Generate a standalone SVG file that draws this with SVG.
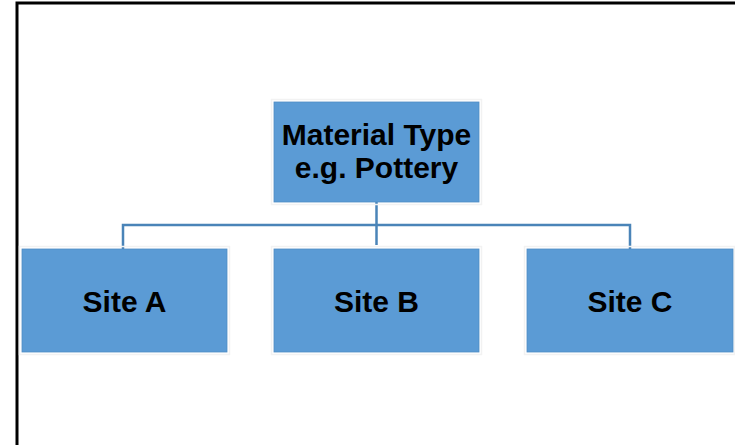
<svg xmlns="http://www.w3.org/2000/svg" width="735" height="445" viewBox="0 0 735 445">
<style>
.box{fill:#5b9bd5;stroke:#4f8cc4;stroke-width:0.8}
.halo{fill:none;stroke:#f2f2f2;stroke-width:1.5}
.lbl{font-family:"Liberation Sans",Arial,sans-serif;font-weight:bold;font-size:30px;fill:#000;text-anchor:middle}
.conn{fill:none;stroke:#4a84b8;stroke-width:2.5}
</style>
<rect width="735" height="445" fill="#fff"/>
<path d="M17,445 V3 H735" fill="none" stroke="#000" stroke-width="3"/>
<g id="connectors">
<path class="conn" d="M376.5,202 V245"/>
<path class="conn" d="M123,249 V225 H630 V249"/>
</g>
<g id="material">
<rect class="halo" x="271.5" y="99.5" width="210" height="105"/>
<rect class="box" x="274" y="102" width="205" height="100"/>
<text class="lbl" x="376.5" y="145">Material Type</text>
<text class="lbl" x="376.5" y="178">e.g. Pottery</text>
</g>
<g id="siteA">
<rect class="halo" x="19.5" y="246.5" width="210" height="108"/>
<rect class="box" x="22" y="249" width="205" height="103"/>
<text class="lbl" x="124.5" y="312">Site A</text>
</g>
<g id="siteB">
<rect class="halo" x="271.5" y="246.5" width="210" height="108"/>
<rect class="box" x="274" y="249" width="205" height="103"/>
<text class="lbl" x="376.5" y="312">Site B</text>
</g>
<g id="siteC">
<rect class="halo" x="524.5" y="246.5" width="210" height="108"/>
<rect class="box" x="527" y="249" width="206" height="103"/>
<text class="lbl" x="630" y="312">Site C</text>
</g>
</svg>
